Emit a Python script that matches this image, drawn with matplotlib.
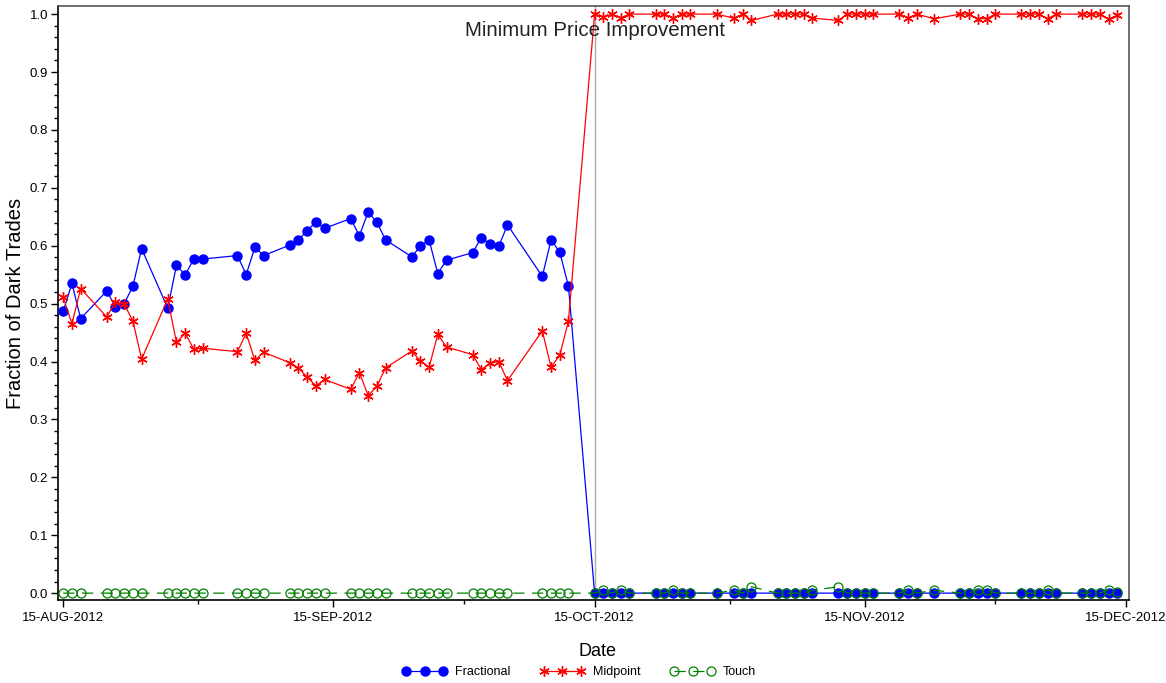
import matplotlib
matplotlib.use("Agg")
import matplotlib.pyplot as plt
import matplotlib.dates as mdates
from matplotlib.ticker import MultipleLocator, FixedLocator
import numpy as np

plt.rcParams['font.family'] = ['Liberation Sans', 'DejaVu Sans']

dates = [
    "2012-08-15", "2012-08-16", "2012-08-17", "2012-08-20", "2012-08-21", "2012-08-22", "2012-08-23", "2012-08-24",
    "2012-08-27", "2012-08-28", "2012-08-29", "2012-08-30", "2012-08-31",
    "2012-09-04", "2012-09-05", "2012-09-06", "2012-09-07",
    "2012-09-10", "2012-09-11", "2012-09-12", "2012-09-13", "2012-09-14",
    "2012-09-17", "2012-09-18", "2012-09-19", "2012-09-20", "2012-09-21",
    "2012-09-24", "2012-09-25", "2012-09-26", "2012-09-27", "2012-09-28",
    "2012-10-01", "2012-10-02", "2012-10-03", "2012-10-04", "2012-10-05",
    "2012-10-09", "2012-10-10", "2012-10-11", "2012-10-12",
    "2012-10-15", "2012-10-16", "2012-10-17", "2012-10-18", "2012-10-19",
    "2012-10-22", "2012-10-23", "2012-10-24", "2012-10-25", "2012-10-26",
    "2012-10-29", "2012-10-31", "2012-11-01", "2012-11-02",
    "2012-11-05", "2012-11-06", "2012-11-07", "2012-11-08", "2012-11-09",
    "2012-11-12", "2012-11-13", "2012-11-14", "2012-11-15", "2012-11-16",
    "2012-11-19", "2012-11-20", "2012-11-21", "2012-11-23",
    "2012-11-26", "2012-11-27", "2012-11-28", "2012-11-29", "2012-11-30",
    "2012-12-03", "2012-12-04", "2012-12-05", "2012-12-06", "2012-12-07",
    "2012-12-10", "2012-12-11", "2012-12-12", "2012-12-13", "2012-12-14",
]

fractional = [
    0.487, 0.535, 0.474, 0.522, 0.494, 0.500, 0.530, 0.595,
    0.492, 0.566, 0.550, 0.577, 0.577,
    0.583, 0.550, 0.597, 0.583,
    0.601, 0.610, 0.626, 0.641, 0.630,
    0.647, 0.617, 0.658, 0.641, 0.610,
    0.581, 0.599, 0.610, 0.552, 0.575,
    0.588, 0.614, 0.603, 0.599, 0.636,
    0.547, 0.610, 0.589, 0.530,
    0.000, 0.000, 0.000, 0.000, 0.000,
    0.000, 0.000, 0.000, 0.000, 0.000,
    0.000, 0.000, 0.000, 0.000,
    0.000, 0.000, 0.000, 0.000, 0.000,
    0.000, 0.000, 0.000, 0.000, 0.000,
    0.000, 0.000, 0.000, 0.000,
    0.000, 0.000, 0.000, 0.000, 0.000,
    0.000, 0.000, 0.000, 0.000, 0.000,
    0.000, 0.000, 0.000, 0.000, 0.000,
]

midpoint = [
    0.511, 0.465, 0.526, 0.477, 0.503, 0.499, 0.470, 0.404,
    0.508, 0.433, 0.449, 0.421, 0.423,
    0.417, 0.449, 0.402, 0.416,
    0.398, 0.389, 0.373, 0.358, 0.369,
    0.352, 0.381, 0.341, 0.357, 0.389,
    0.418, 0.401, 0.390, 0.447, 0.425,
    0.412, 0.386, 0.397, 0.400, 0.367,
    0.453, 0.390, 0.411, 0.470,
    1.000, 0.995, 1.000, 0.993, 1.000,
    1.000, 1.000, 0.993, 1.000, 1.000,
    1.000, 0.993, 1.000, 0.989,
    1.000, 1.000, 1.000, 1.000, 0.993,
    0.989, 1.000, 1.000, 1.000, 1.000,
    1.000, 0.993, 1.000, 0.992,
    1.000, 1.000, 0.992, 0.992, 1.000,
    1.000, 1.000, 1.000, 0.992, 1.000,
    1.000, 1.000, 1.000, 0.991, 0.998,
]

touch = [
    0.0, 0.0, 0.0, 0.0, 0.0, 0.0, 0.0, 0.0,
    0.0, 0.0, 0.0, 0.0, 0.0,
    0.0, 0.0, 0.0, 0.0,
    0.0, 0.0, 0.0, 0.0, 0.0,
    0.0, 0.0, 0.0, 0.0, 0.0,
    0.0, 0.0, 0.0, 0.0, 0.0,
    0.0, 0.0, 0.0, 0.0, 0.0,
    0.0, 0.0, 0.0, 0.0,
    0.0, 0.005, 0.0, 0.006, 0.0,
    0.0, 0.0, 0.006, 0.0, 0.0,
    0.0, 0.005, 0.0, 0.011,
    0.0, 0.0, 0.0, 0.0, 0.005,
    0.011, 0.0, 0.0, 0.0, 0.0,
    0.0, 0.006, 0.0, 0.005,
    0.0, 0.0, 0.006, 0.006, 0.0,
    0.0, 0.0, 0.0, 0.006, 0.0,
    0.0, 0.0, 0.0, 0.006, 0.002,
]

tick_dates = ["2012-08-15", "2012-09-15", "2012-10-15", "2012-11-15", "2012-12-15"]
tick_labels = ["15-AUG-2012", "15-SEP-2012", "15-OCT-2012", "15-NOV-2012", "15-DEC-2012"]
event_date = "2012-10-15"
event_label = "Minimum Price Improvement"

x = mdates.datestr2num(dates)
xt = mdates.datestr2num(tick_dates)
xe = mdates.datestr2num(event_date)

fig = plt.figure(figsize=(11.66, 6.83), dpi=100)
ax = fig.add_axes([58/1166, 1-599.5/683, (1129-58)/1166, (599.5-6)/683])

ax.axvline(xe, color='#aaaaaa', lw=1.0, zorder=1)

ax.plot(x, fractional, color='#0000ff', lw=0.9, marker='o', ms=6.5,
        mfc='#0000ff', mec='#0000ff', label='Fractional', zorder=3)
ax.plot(x, midpoint, color='#ff0000', lw=0.9, marker=(6, 2, 0), ms=7.5,
        mew=1.0, mec='#ff0000', label='Midpoint', zorder=3)
ax.plot(x, touch, color='#008000', lw=0.9, linestyle=(0, (9, 6)), marker='o', ms=6.5,
        mfc='none', mec='#008000', mew=0.9, label='Touch', zorder=4)

ax.text(xe, 0.972, event_label, ha='center', va='center', fontsize=14.8, color='#222222')

ax.set_xlim(xt[0] - 0.6, xt[-1] + 0.35)
ax.set_ylim(-0.011, 1.014)

ax.xaxis.set_major_locator(FixedLocator(xt))
ax.set_xticklabels(tick_labels, fontsize=9.5)
mids = [(xt[i] + xt[i+1]) / 2 for i in range(len(xt) - 1)]
ax.xaxis.set_minor_locator(FixedLocator(mids))
ax.yaxis.set_major_locator(MultipleLocator(0.1))
ax.yaxis.set_minor_locator(MultipleLocator(0.02))
ax.set_yticks(np.arange(0, 1.01, 0.1))
ax.set_yticklabels([f"{v:.1f}" for v in np.arange(0, 1.01, 0.1)], fontsize=9.5)

ax.tick_params(axis='both', which='major', length=5, width=1, direction='out', color='black')
ax.tick_params(axis='both', which='minor', length=3, width=1, direction='out', color='black')
ax.tick_params(axis='x', pad=4)
ax.tick_params(axis='y', pad=2)

for s in ['left', 'bottom']:
    ax.spines[s].set_color('black')
    ax.spines[s].set_linewidth(1.2)
for s in ['top', 'right']:
    ax.spines[s].set_color('#555555')
    ax.spines[s].set_linewidth(1.2)

fig.text(598/1166, 1-651/683, "Date", ha='center', va='center', fontsize=13)
fig.text(16/1166, 1-303/683, "Fraction of Dark Trades", ha='center', va='center',
         rotation=90, fontsize=14.5)

fig.legend(loc='center', bbox_to_anchor=(0.497, 1-672/683), ncol=3, frameon=False,
           numpoints=3, handlelength=3.5, columnspacing=2.4, handletextpad=0.7, fontsize=9)

fig.savefig("out.png", dpi=100)
